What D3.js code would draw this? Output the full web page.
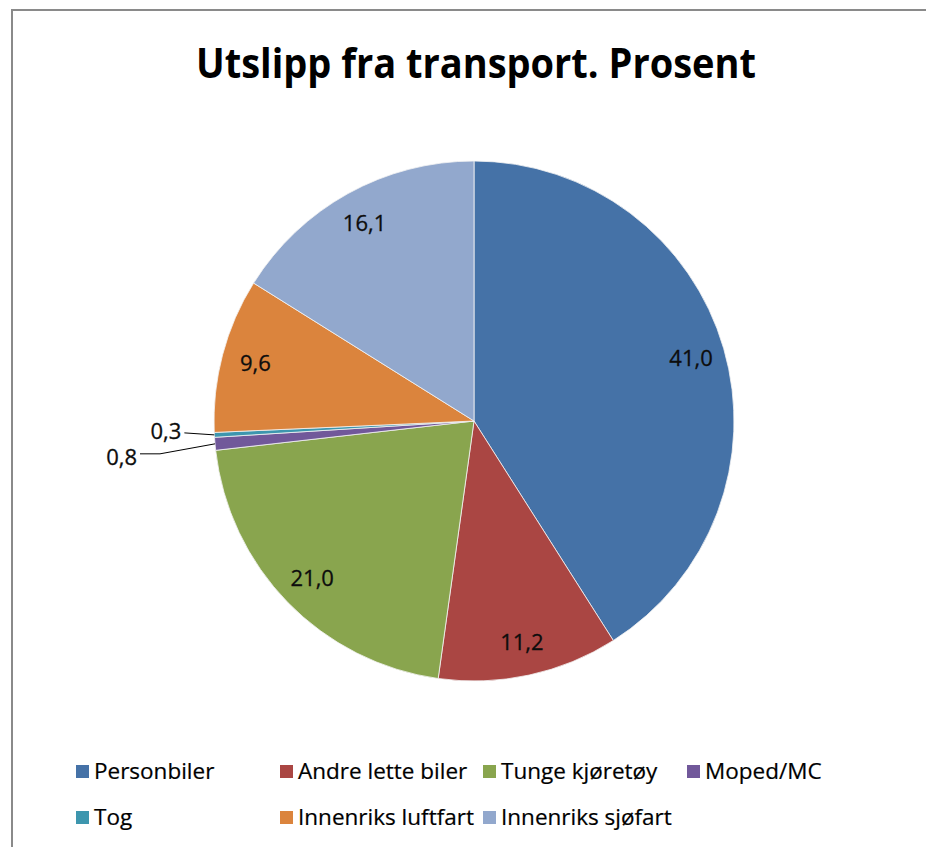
<!DOCTYPE html>
<html>
<head>
<meta charset="utf-8">
<script src="https://cdn.jsdelivr.net/npm/d3@7"></script>
<style>
  body { margin: 0; background: #fff; }
  svg { display: block; }
</style>
</head>
<body>
<div id="chart"></div>
<script>
// data
const categories = ["Personbiler", "Andre lette biler", "Tunge kjøretøy", "Moped/MC", "Tog", "Innenriks luftfart", "Innenriks sjøfart"];
const values = [41.0, 11.2, 21.0, 0.8, 0.3, 9.6, 16.1];
const colors = ["#4572A7", "#AA4643", "#89A54E", "#71589A", "#3D96AE", "#DB843D", "#92A8CD"];
const title = "Utslipp fra transport. Prosent";

const width = 926, height = 847;
const cx = 474, cy = 421, radius = 260;

const svg = d3.select("#chart")
  .append("svg")
  .attr("width", width)
  .attr("height", height);

svg.append("rect").attr("width", width).attr("height", height).attr("fill", "#fff");

// chart area frame (only top and left edges are inside the picture)
svg.append("rect")
  .attr("x", 12).attr("y", 10)
  .attr("width", width + 20).attr("height", height + 20)
  .attr("fill", "none")
  .attr("stroke", "#8a8a8a")
  .attr("stroke-width", 2);

// title
svg.append("text")
  .attr("x", 476)
  .attr("y", 78)
  .attr("text-anchor", "middle")
  .attr("font-family", "Open Sans")
  .attr("font-weight", "bold")
  .attr("font-size", 41)
  .attr("textLength", 560)
  .attr("lengthAdjust", "spacingAndGlyphs")
  .attr("fill", "#000")
  .text(title);

const data = categories.map((c, i) => ({name: c, value: values[i], color: colors[i]}));

const pie = d3.pie().sort(null).value(d => d.value);
const arcs = pie(data);

const arc = d3.arc().innerRadius(0).outerRadius(radius);
const labelArc = d3.arc().innerRadius(226).outerRadius(226);
const edgeArc = d3.arc().innerRadius(radius).outerRadius(radius);

const g = svg.append("g").attr("transform", `translate(${cx},${cy})`);

g.selectAll("path")
  .data(arcs)
  .join("path")
  .attr("d", arc)
  .attr("fill", d => d.data.color)
  .attr("stroke", "#f4f4f4")
  .attr("stroke-width", 0.8);

const fmt = v => v.toFixed(1).replace(".", ",");

// labels inside the big slices
g.selectAll("text.inside")
  .data(arcs.filter(d => d.data.value >= 1))
  .join("text")
  .attr("class", "inside")
  .attr("x", d => labelArc.centroid(d)[0])
  .attr("y", d => labelArc.centroid(d)[1])
  .attr("dy", "0.35em")
  .attr("text-anchor", "middle")
  .attr("font-family", "Open Sans")
  .attr("font-size", 22)
  .attr("fill", "#0d0d0d")
  .attr("stroke", "#0d0d0d")
  .attr("stroke-width", 0.3)
  .text(d => fmt(d.data.value));

// thin slices get labels outside with leader lines
const small = arcs.filter(d => d.data.value < 1);
const offsets = {
  "Moped/MC": {bend: [-55, 10], end: [-75, 10], text: [-78, 13]},
  "Tog": {bend: [-30, -2], end: [-30, -2], text: [-33, -4]}
};
small.forEach(d => {
  const p = edgeArc.centroid(d);
  const o = offsets[d.data.name];
  g.append("polyline")
    .attr("points", [p, [p[0] + o.bend[0], p[1] + o.bend[1]], [p[0] + o.end[0], p[1] + o.end[1]]].map(q => q.join(",")).join(" "))
    .attr("fill", "none")
    .attr("stroke", "#000")
    .attr("stroke-width", 1);
  g.append("text")
    .attr("x", p[0] + o.text[0])
    .attr("y", p[1] + o.text[1])
    .attr("dy", "0.35em")
    .attr("text-anchor", "end")
    .attr("font-family", "Open Sans")
    .attr("font-size", 22)
    .attr("fill", "#0d0d0d")
    .attr("stroke", "#0d0d0d")
    .attr("stroke-width", 0.3)
    .text(fmt(d.data.value));
});

// legend, Excel-style grid that gets pushed right when text overflows
const legend = svg.append("g");
const colX = [76, 280, 483, 687];
const rowY = [779, 825];
const perRow = 4;
let prevEnd = 0;
data.forEach((d, i) => {
  const row = Math.floor(i / perRow), col = i % perRow;
  if (col === 0) prevEnd = 0;
  const x = Math.max(colX[col], prevEnd + 4);
  const y = rowY[row];
  legend.append("rect")
    .attr("x", x).attr("y", y - 14)
    .attr("width", 13).attr("height", 13)
    .attr("fill", d.color);
  const t = legend.append("text")
    .attr("x", x + 18)
    .attr("y", y)
    .attr("font-family", "Open Sans")
    .attr("font-size", 22.5)
    .attr("fill", "#000")
    .attr("stroke", "#000")
    .attr("stroke-width", 0.2)
    .text(d.name);
  prevEnd = x + 18 + t.node().getComputedTextLength();
});
</script>
</body>
</html>
